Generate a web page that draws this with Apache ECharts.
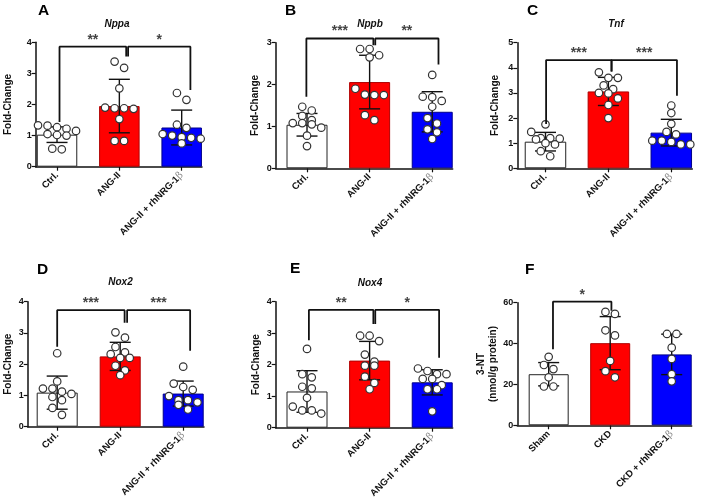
<!DOCTYPE html>
<html><head><meta charset="utf-8">
<script src="https://cdn.jsdelivr.net/npm/echarts@6/dist/echarts.min.js"></script>
<style>html,body{margin:0;padding:0;background:#fff}#c{width:705px;height:501px}</style>
</head><body><div id="c"></div>
<script>
// ---------- DATA ----------
const categoriesAng = ['Ctrl.', 'ANG-II', 'ANG-II + rhNRG-1β'];
const categoriesCkd = ['Sham', 'CKD', 'CKD + rhNRG-1β'];

// A: Nppa
const nppaMean = [1.03, 1.95, 1.26];
const nppaSD = [0.25, 0.86, 0.56];
const nppaCtrl = [1.33, 1.32, 1.27, 1.22, 1.15, 1.05, 1.02, 1.0, 0.58, 0.56];
const nppaAng = [3.38, 3.18, 2.52, 1.9, 1.88, 1.88, 1.86, 1.53, 0.83, 0.83];
const nppaRh = [2.37, 2.15, 1.35, 1.25, 1.05, 1.0, 0.95, 0.93, 0.9, 0.75];
const nppaBrackets = [
  {x1: 0.04, x2: 1.11, y1: 1.44, y2: 3.54, top: 3.86, label: '**'},
  {x1: 1.14, x2: 2.14, y1: 3.54, y2: 2.47, top: 3.86, label: '*'}
];

// B: Nppb
const nppbMean = [1.04, 2.06, 1.35];
const nppbSD = [0.27, 0.64, 0.48];
const nppbCtrl = [1.47, 1.38, 1.25, 1.15, 1.08, 1.08, 1.05, 0.97, 0.78, 0.53];
const nppbAng = [2.85, 2.85, 2.7, 2.65, 1.9, 1.76, 1.75, 1.75, 1.27, 1.15];
const nppbRh = [2.23, 1.71, 1.7, 1.61, 1.47, 1.2, 1.07, 0.93, 0.86, 0.7];
const nppbBrackets = [
  {x1: -0.01, x2: 1.06, y1: 1.71, y2: 2.94, top: 3.10, label: '***'},
  {x1: 1.09, x2: 2.10, y1: 2.94, y2: 2.48, top: 3.10, label: '**'}
];

// C: Tnf
const tnfMean = [1.06, 3.06, 1.42];
const tnfSD = [0.37, 0.56, 0.53];
const tnfCtrl = [1.75, 1.45, 1.2, 1.2, 1.18, 1.15, 1.0, 0.95, 0.68, 0.48];
const tnfAng = [3.82, 3.6, 3.6, 3.3, 3.15, 3.0, 2.98, 2.78, 2.52, 2.0];
const tnfRh = [2.5, 2.2, 1.77, 1.45, 1.35, 1.1, 1.1, 1.05, 0.95, 0.95];
const tnfBrackets = [
  {x1: 0.01, x2: 1.05, y1: 1.76, y2: 3.85, top: 4.31, label: '***'},
  {x1: 1.05, x2: 2.09, y1: 3.85, y2: 2.89, top: 4.31, label: '***'}
];

// D: Nox2
const nox2Mean = [1.09, 2.25, 1.06];
const nox2SD = [0.53, 0.45, 0.40];
const nox2Ctrl = [2.35, 1.45, 1.22, 1.22, 1.12, 1.05, 0.95, 0.85, 0.6, 0.38];
const nox2Ang = [3.02, 2.85, 2.55, 2.38, 2.32, 2.2, 2.2, 1.95, 1.8, 1.65];
const nox2Rh = [1.92, 1.38, 1.27, 1.18, 0.98, 0.85, 0.85, 0.78, 0.7, 0.55];
const nox2Brackets = [
  {x1: 0.0, x2: 1.07, y1: 2.56, y2: 3.33, top: 3.73, label: '***'},
  {x1: 1.11, x2: 2.11, y1: 3.33, y2: 2.43, top: 3.73, label: '***'}
];

// E: Nox4
const nox4Mean = [1.15, 2.13, 1.44];
const nox4SD = [0.66, 0.61, 0.40];
const nox4Ctrl = [2.5, 1.7, 1.6, 1.3, 1.25, 0.95, 0.67, 0.55, 0.55, 0.45];
const nox4Ang = [2.92, 2.92, 2.75, 2.32, 2.1, 1.97, 1.97, 1.62, 1.42, 1.22];
const nox4Rh = [1.88, 1.8, 1.7, 1.7, 1.55, 1.55, 1.35, 1.22, 1.22, 0.52];
const nox4Brackets = [
  {x1: 0.03, x2: 1.06, y1: 2.78, y2: 3.29, top: 3.74, label: '**'},
  {x1: 1.09, x2: 2.11, y1: 3.29, y2: 2.22, top: 3.74, label: '*'}
];

// F: 3-NT
const ntMean = [25.0, 40.2, 34.7];
const ntSD = [5.7, 13.0, 9.9];
const ntSham = [33.5, 29.5, 27.5, 23.5, 19, 19];
const ntCkd = [55.5, 54.5, 46.5, 44, 31.5, 26.5, 23.5];
const ntRh = [44.7, 44.7, 38, 32.5, 25, 21.5];
const ntBrackets = [
  {x1: 0.07, x2: 1.02, y1: 37.2, y2: 56, top: 60.5, label: '*'}
];

// y-axis tick settings
const yMaxes = [4, 3, 5, 4, 4, 60];
const yIntervals = [1, 1, 1, 1, 1, 20];
const panelTitles = ['Nppa', 'Nppb', 'Tnf', 'Nox2', 'Nox4', ''];
const panelLetters = ['A', 'B', 'C', 'D', 'E', 'F'];
const yNames = ['Fold-Change', 'Fold-Change', 'Fold-Change', 'Fold-Change', 'Fold-Change', '3-NT\n(nmol/g protein)'];

// ---------- LAYOUT / STYLE ----------
const FONT = '"Liberation Sans", Arial, sans-serif';
const barColors = ['#ffffff', '#ff0000', '#0000ff'];
const barBorders = ['#222222', '#b00000', '#00008a'];

const layouts = [
  {left: 35.7, top: 42.3, width: 166.3, height: 124.4, xMin: -0.342, xMax: 2.326, barW: 40.5, nameGap: 21.5},
  {left: 275.7, top: 42.7, width: 177, height: 125.6, xMin: -0.5, xMax: 2.327, barW: 41, nameGap: 14.5},
  {left: 517.3, top: 42.7, width: 175, height: 125.6, xMin: -0.448, xMax: 2.334, barW: 41.5, nameGap: 16.5},
  {left: 27.7, top: 301.7, width: 176.3, height: 125, xMin: -0.468, xMax: 2.33, barW: 41, nameGap: 13.5},
  {left: 275.7, top: 301.7, width: 177, height: 126, xMin: -0.5, xMax: 2.327, barW: 41, nameGap: 13},
  {left: 517.3, top: 302.7, width: 174.4, height: 122.6, xMin: -0.51, xMax: 2.325, barW: 40, nameGap: 16}
];
const letterPos = [[38, 3], [285, 3], [527, 3], [37, 262], [290, 261], [525, 262]];
const titlePos = [[117, 24], [370, 24], [616, 24], [120.5, 282.5], [370, 283], [0, 0]];

const panels = [
  {cats: categoriesAng, mean: nppaMean, sd: nppaSD, pts: [nppaCtrl, nppaAng, nppaRh], br: nppaBrackets},
  {cats: categoriesAng, mean: nppbMean, sd: nppbSD, pts: [nppbCtrl, nppbAng, nppbRh], br: nppbBrackets},
  {cats: categoriesAng, mean: tnfMean, sd: tnfSD, pts: [tnfCtrl, tnfAng, tnfRh], br: tnfBrackets},
  {cats: categoriesAng, mean: nox2Mean, sd: nox2SD, pts: [nox2Ctrl, nox2Ang, nox2Rh], br: nox2Brackets},
  {cats: categoriesAng, mean: nox4Mean, sd: nox4SD, pts: [nox4Ctrl, nox4Ang, nox4Rh], br: nox4Brackets},
  {cats: categoriesCkd, mean: ntMean, sd: ntSD, pts: [ntSham, ntCkd, ntRh], br: ntBrackets}
];

const DOT_SPACING = 9.5; // px between dot centres in one row
const BIN = 7;           // px vertical tolerance for one row
const CAP = 10.5;        // half width of error caps (px)

function swarm(vals, groupIndex, pxPerY, pxPerX) {
  const s = vals.slice().sort((a, b) => b - a);
  const out = [];
  let i = 0;
  while (i < s.length) {
    let j = i;
    while (j < s.length && (s[i] - s[j]) * pxPerY < BIN) j++;
    const n = j - i;
    for (let k = 0; k < n; k++) {
      out.push([groupIndex + (k - (n - 1) / 2) * DOT_SPACING / pxPerX, s[i + k]]);
    }
    i = j;
  }
  return out;
}

const option = {
  animation: false,
  backgroundColor: '#ffffff',
  textStyle: {fontFamily: FONT},
  grid: [], xAxis: [], yAxis: [], series: [], graphic: []
};

panels.forEach((p, idx) => {
  const L = layouts[idx];
  option.grid.push({left: L.left, top: L.top, width: L.width, height: L.height, containLabel: false, outerBoundsMode: 'none'});
  const cats = p.cats;
  option.xAxis.push({
    type: 'value', gridIndex: idx, min: L.xMin, max: L.xMax,
    axisLine: {show: true, onZero: false, lineStyle: {color: '#111', width: 1.5}},
    axisTick: {show: true, customValues: [0, 1, 2], length: 4, lineStyle: {color: '#111', width: 1.2}},
    splitLine: {show: false},
    axisLabel: {
      show: true, customValues: [0, 1, 2], rotate: 45, margin: 7,
      fontSize: 9.5, fontWeight: 'bold', color: '#111', fontFamily: FONT,
      formatter: v => {
        const t = cats[Math.round(v)] || '';
        return t.endsWith('β') ? t.slice(0, -1) + '{b|β}' : t;
      },
      rich: {b: {fontSize: 10, fontWeight: 'normal', color: '#8a8a8a', fontFamily: '"DejaVu Serif", serif'}}
    }
  });
  option.yAxis.push({
    type: 'value', gridIndex: idx, min: 0, max: yMaxes[idx], interval: yIntervals[idx],
    name: yNames[idx], nameLocation: 'middle', nameGap: L.nameGap,
    nameTextStyle: {fontSize: 10, fontWeight: 'bold', color: '#111', fontFamily: FONT, lineHeight: 12},
    axisLine: {show: true, onZero: false, lineStyle: {color: '#111', width: 1.5}},
    axisTick: {show: true, length: 4, lineStyle: {color: '#111', width: 1.2}},
    splitLine: {show: false},
    axisLabel: {fontSize: 9, fontWeight: 'bold', color: '#111', margin: 4, fontFamily: FONT}
  });

  // bars
  option.series.push({
    type: 'bar', xAxisIndex: idx, yAxisIndex: idx, barWidth: L.barW, z: 2,
    data: p.mean.map((m, j) => ({value: [j, m], itemStyle: {color: barColors[j], borderColor: barBorders[j], borderWidth: 1}}))
  });

  // error bars
  option.series.push({
    type: 'custom', xAxisIndex: idx, yAxisIndex: idx, z: 3,
    data: p.mean.map((m, j) => [j, m, p.sd[j]]),
    encode: {x: 0, y: 1},
    renderItem: (params, api) => {
      const x = api.value(0), m = api.value(1), s = api.value(2);
      const hi = api.coord([x, m + s]);
      const lo = api.coord([x, m - s]);
      const st = {stroke: '#111', lineWidth: 1.4};
      return {type: 'group', children: [
        {type: 'line', shape: {x1: hi[0], y1: hi[1], x2: lo[0], y2: lo[1]}, style: st},
        {type: 'line', shape: {x1: hi[0] - CAP, y1: hi[1], x2: hi[0] + CAP, y2: hi[1]}, style: st},
        {type: 'line', shape: {x1: lo[0] - CAP, y1: lo[1], x2: lo[0] + CAP, y2: lo[1]}, style: st}
      ]};
    }
  });

  // dots
  const pxPerY = L.height / yMaxes[idx];
  const pxPerX = L.width / (L.xMax - L.xMin);
  let dots = [];
  p.pts.forEach((vals, j) => { dots = dots.concat(swarm(vals, j, pxPerY, pxPerX)); });
  option.series.push({
    type: 'scatter', xAxisIndex: idx, yAxisIndex: idx, z: 4, clip: false,
    symbol: 'circle', symbolSize: 7.5,
    itemStyle: {color: '#ffffff', borderColor: '#333', borderWidth: 1.2, opacity: 1},
    data: dots
  });

  // significance brackets
  p.br.forEach(b => {
    option.series.push({
      type: 'line', xAxisIndex: idx, yAxisIndex: idx, z: 5, clip: false,
      symbol: 'none', silent: true,
      lineStyle: {color: '#111', width: 1.8},
      data: [[b.x1, b.y1], [b.x1, b.top], [b.x2, b.top], [b.x2, b.y2]]
    });
  });
  option.series.push({
    type: 'scatter', xAxisIndex: idx, yAxisIndex: idx, z: 6, clip: false,
    symbolSize: 0, silent: true,
    label: {show: true, position: 'top', distance: 0, fontSize: 14, fontWeight: 'bold', color: '#111', fontFamily: FONT,
            formatter: prm => prm.data.lab},
    data: p.br.map(b => ({value: [(b.x1 + b.x2) / 2, b.top], lab: b.label}))
  });

  // panel letter and title
  option.graphic.push({type: 'text', x: letterPos[idx][0], y: letterPos[idx][1],
    style: {text: panelLetters[idx], font: 'bold 15.5px ' + FONT, fill: '#000', align: 'left', verticalAlign: 'top'}});
  if (panelTitles[idx]) {
    option.graphic.push({type: 'text', x: titlePos[idx][0], y: titlePos[idx][1],
      style: {text: panelTitles[idx], font: 'italic bold 10px ' + FONT, fill: '#111', align: 'center', verticalAlign: 'middle'}});
  }
});

const chart = echarts.init(document.getElementById('c'), null, {renderer: 'canvas'});
chart.setOption(option);
</script>
</body></html>
